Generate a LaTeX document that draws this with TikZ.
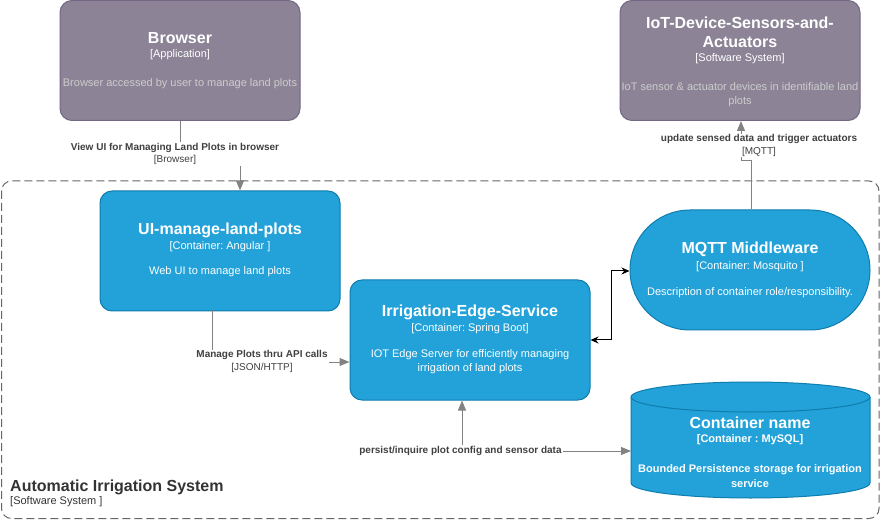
\documentclass[tikz,border=0pt]{standalone}
\usepackage{fontspec}
\setmainfont{Liberation Sans}
\usetikzlibrary{arrows.meta,shapes.geometric,calc}
\frenchspacing
\definecolor{extfill}{HTML}{8C8496}
\definecolor{extstroke}{HTML}{736782}
\definecolor{confill}{HTML}{23A2D9}
\definecolor{constroke}{HTML}{0E7DAD}
\definecolor{relc}{HTML}{828282}
\definecolor{relfont}{HTML}{404040}
\definecolor{bnd}{HTML}{666666}
\definecolor{bndfont}{HTML}{333333}
\definecolor{descgrey}{HTML}{CCCCCC}
\tikzset{
  extbox/.style={draw=extstroke,fill=extfill,rounded corners=12pt,line width=1pt,minimum width=240pt,minimum height=120pt,inner sep=0pt},
  conbox/.style={draw=constroke,fill=confill,rounded corners=12pt,line width=1pt,minimum width=240pt,minimum height=120pt,inner sep=0pt},
  ttl/.style={text=white,font=\fontsize{16}{19}\selectfont\bfseries,inner sep=0pt,align=center},
  tech/.style={text=white,font=\fontsize{11}{13}\selectfont,inner sep=0pt},
  desc/.style={text=white,font=\fontsize{11}{14}\selectfont,inner sep=0pt,align=center},
  extdesc/.style={text=descgrey,font=\fontsize{11}{14}\selectfont,inner sep=0pt,align=center},
  rel/.style={draw=relc,line width=1pt},
  reltip/.style={-{Triangle[length=10pt,width=8pt]}},
  rellbl/.style={fill=white,text=relfont,inner sep=1pt,align=center,font=\fontsize{10}{12.5}\selectfont},
  bndline/.style={draw=bnd,line width=1pt,dash pattern=on 8pt off 4pt,rounded corners=10pt}
}
\begin{document}
\begin{tikzpicture}[x=1pt,y=-1pt]
\useasboundingbox (0,0) rectangle (881,521);
% boundary
\draw[bndline] (1.5,181) rectangle (879,518.5);
\node[anchor=west,inner sep=0pt,text=bndfont,font=\fontsize{16}{19}\selectfont\bfseries] (bndttl) at (10,487) {Automatic Irrigation System};
\node[anchor=west,inner sep=0pt,text=bndfont,font=\fontsize{11}{13}\selectfont] (bndsub) at (10,502) {[Software System ]};

% Browser
\node[extbox] (browser) at (180,60.5) {};
\node[ttl] (browserT) at (180,38) {Browser};
\node[tech] (browserS) at (180,55) {[Application]};
\node[extdesc] (browserD) at (180,84) {Browser accessed by user to manage land plots};

% IoT
\node[extbox] (iot) at (740,60.5) {};
\node[ttl] (iotT) at (740,32) {IoT-Device-Sensors-and-\\Actuators};
\node[tech] (iotS) at (740,59) {[Software System]};
\node[extdesc] (iotD) at (740,94.5) {IoT sensor \& actuator devices in identifiable land\\plots};

% UI
\node[conbox] (ui) at (220,251) {};
\node[ttl] (uiT) at (220,230) {UI-manage-land-plots};
\node[tech] (uiS) at (220,247) {[Container: Angular ]};
\node[desc] (uiD) at (220,272) {Web UI to manage land plots};

% Edge service
\node[conbox] (edge) at (470,340) {};
\node[ttl] (edgeT) at (470,312) {Irrigation-Edge-Service};
\node[tech] (edgeS) at (470,329) {[Container: Spring Boot]};
\node[desc] (edgeD) at (470,362) {IOT Edge Server for efficiently managing\\irrigation of land plots};

% MQTT
\node[draw=constroke,fill=confill,line width=1pt,rounded corners=60pt,minimum width=240pt,minimum height=120pt,inner sep=0pt] (mqtt) at (750,270) {};
\node[ttl] (mqttT) at (750,249) {MQTT Middleware};
\node[tech] (mqttS) at (750,267) {[Container: Mosquito ]};
\node[desc] (mqttD) at (750,293) {Description of container role/responsibility.};

% Cylinder
\path[fill=confill,draw=constroke,line width=1pt]
  (631,397) -- (631,483) arc[start angle=180,end angle=0,x radius=119.5,y radius=15]
  -- (870,397) arc[start angle=0,end angle=-180,x radius=119.5,y radius=15] -- cycle;
\draw[constroke,line width=1pt] (631,397) arc[start angle=180,end angle=0,x radius=119.5,y radius=15];
\node[inner sep=0pt,minimum width=239pt,minimum height=116pt] (db) at (750.5,440) {};
\node[ttl] (dbT) at (750,423) {Container name};
\node[tech,font=\fontsize{11}{13}\selectfont\bfseries] (dbS) at (750,440) {[Container : MySQL]};
\node[desc,font=\fontsize{11}{15}\selectfont\bfseries] (dbD) at (750,476.5) {Bounded Persistence storage for irrigation\\service};

% Browser -> UI
\coordinate (r1a) at (180,154);
\coordinate (r1b) at (240,154);
\draw[rel,reltip] (browser.south) -- (r1a) -- (r1b) -- (r1b |- ui.north);
\node[rellbl] (l1) at (175,154) {\textbf{View UI for Managing Land Plots in browser}\\{}[Browser]};

% UI -> Edge
\coordinate (r2a) at (212,362);
\draw[rel,reltip] (212,310) -- (r2a) -- (r2a -| edge.west);
\node[rellbl] (l2) at (262,361.5) {\textbf{Manage Plots thru API calls}\\{}[JSON/HTTP]};

% MQTT -> IoT
\coordinate (r3a) at (751,161);
\coordinate (r3b) at (741,161);
\draw[rel,reltip] (mqtt.north -| r3a) -- (r3a) -- (r3b) -- (r3b |- iot.south);
\node[rellbl,inner ysep=0.5pt] (l3) at (759,145.5) {\textbf{update sensed data and trigger actuators}\\{}[MQTT]};

% Edge <-> MQTT
\coordinate (r4a) at (611,340);
\coordinate (r4b) at (611,271);
\draw[line width=1pt,{Stealth[length=8pt,width=7pt]}-{Stealth[length=8pt,width=7pt]}] (edge.east |- r4a) -- (r4a) -- (r4b) -- (r4b -| mqtt.west);

% Edge <-> DB
\coordinate (r5a) at (462,451);
\draw[rel,{Triangle[length=10pt,width=8pt]}-{Triangle[length=10pt,width=8pt]}] (r5a |- edge.south) -- (r5a) -- (631,451);
\node[rellbl] (l5) at (460.5,451) {\textbf{persist/inquire plot config and sensor data}};
\end{tikzpicture}
\end{document}
